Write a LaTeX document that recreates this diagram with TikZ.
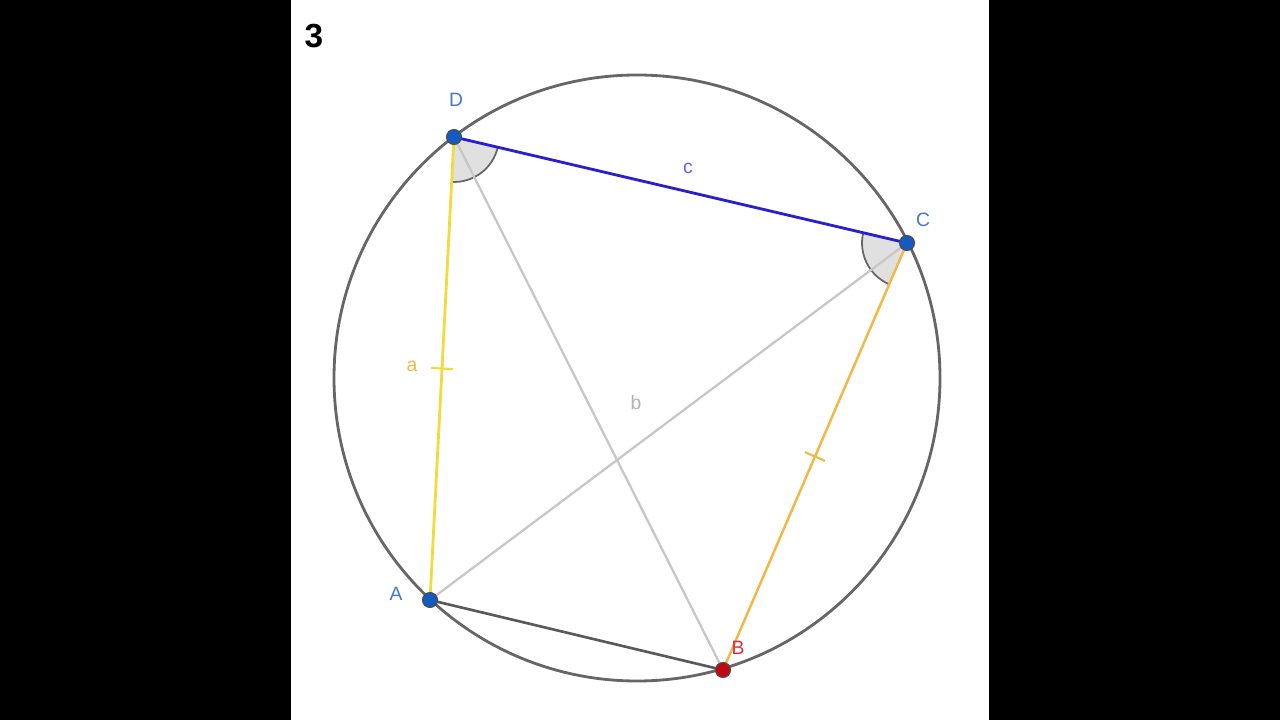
\documentclass[tikz,border=0pt]{standalone}
\usepackage{fontspec}
\setmainfont{Liberation Sans}
\usepackage{tikz}
\usetikzlibrary{calc}
\usetikzlibrary{angles}
\definecolor{ggblue}{RGB}{21,90,190}
\definecolor{ggred}{RGB}{190,10,20}
\definecolor{lblblue}{RGB}{70,120,200}
\definecolor{lblred}{RGB}{210,50,70}
\definecolor{segyellow}{RGB}{240,220,60}
\definecolor{segorange}{RGB}{240,185,70}
\definecolor{segblue}{RGB}{40,30,210}
\tikzset{ pt_dot/.style = {circle, draw=black!70, line width=0.6pt, inner sep=0pt, minimum size=0.3cm} }
\tikzset{ lbl/.style = {font=\fontsize{11}{13}\selectfont, inner sep=0pt} }
\tikzset{ tick_mark/.style = {line width=1.2pt} }

\begin{document}
\begin{tikzpicture}[x=0.02cm,y=0.02cm]
            \useasboundingbox (0,0) rectangle (1280,720);
            \fill[black] (0,0) rectangle (1280,720);
            \fill[white] (291,0) rectangle (989,720);
                    \coordinate (O) at (637,342);
                    \coordinate (D) at (454,583);
                    \coordinate (C) at (907,477);
                    \coordinate (A) at (430,120);
                    \coordinate (B) at (723,50);
                    % angle marks
                    \pic[draw=black!60, fill=black!12, line width=1pt, angle radius=0.9cm] {angle = A--D--C};
                    \pic[draw=black!60, fill=black!12, line width=1pt, angle radius=0.9cm] {angle = D--C--B};
                    % circle
                    \draw[black!60, line width=1.6pt] (O) circle (303);
                    % diagonals
                    \draw[black!22, line width=1.3pt] (D) -- (B);
                    \draw[black!22, line width=1.3pt] (A) -- (C);
                    % sides
                    \draw[black!65, line width=1.5pt] (A) -- (B);
                    \draw[segyellow, line width=1.6pt] (D) -- (A);
                    \draw[segorange, line width=1.4pt] (C) -- (B);
                    \draw[segblue, line width=1.6pt] (D) -- (C);
                    % equal length ticks
                    \coordinate (ma) at ($(D)!0.5!(A)$);
                    \coordinate (mb) at ($(C)!0.5!(B)$);
                    \draw[tick_mark, segyellow] ($(ma)!0.22cm!90:(A)$) -- ($(ma)!0.22cm!-90:(A)$);
                    \draw[tick_mark, segorange] ($(mb)!0.22cm!90:(B)$) -- ($(mb)!0.22cm!-90:(B)$);
                    % points
                    \node[pt_dot, fill=ggblue] (Dpt) at (D) {};
                    \node[pt_dot, fill=ggblue] (Cpt) at (C) {};
                    \node[pt_dot, fill=ggblue] (Apt) at (A) {};
                    \node[pt_dot, fill=ggred] (Bpt) at (B) {};
                    % labels
                    \node[lbl, text=lblblue] (Dlbl) at (456,620) {D};
                    \node[lbl, text=lblblue] (Clbl) at (923,500) {C};
                    \node[lbl, text=lblblue] (Albl) at (396,126) {A};
                    \node[lbl, text=lblred] (Blbl) at (738,72) {B};
                    \node[lbl, text=segorange] (albl) at (412,354) {a};
                    \node[lbl, text=black!30] (blbl) at (636,317) {b};
                    \node[lbl, text=segblue!70] (clbl) at (688,552) {c};
                    \node[font=\fontsize{19}{21}\selectfont\bfseries, inner sep=0pt] (num) at (314,684) {3};
            \end{tikzpicture}
\end{document}
